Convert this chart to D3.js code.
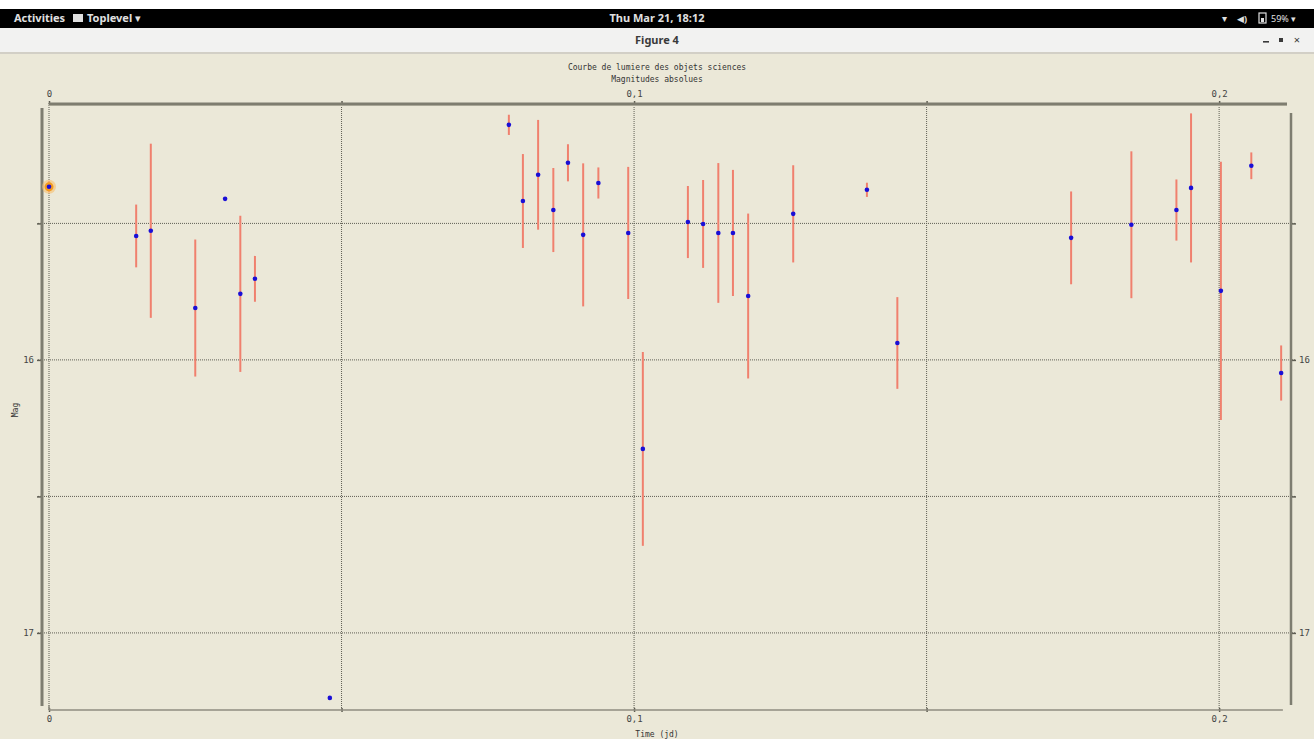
<!DOCTYPE html>
<html>
<head>
<meta charset="utf-8">
<script src="https://cdn.jsdelivr.net/npm/d3@7"></script>
<style>
    body { margin: 0; padding: 0; background: #ebe8d8; overflow: hidden; }
    svg { display: block; }
</style>
</head>
<body>
<div id="screen"></div>
<script>
//
// Light curve figure (Tk style window) drawn with D3
//

// time (jd) of each measure
var _timeValues = [0.0000, 0.0149, 0.0174, 0.0250, 0.0301, 0.0327, 0.0352, 0.0480,
    0.0786, 0.0810, 0.0836, 0.0862, 0.0887, 0.0913, 0.0939, 0.0990, 0.1015,
    0.1092, 0.1118, 0.1144, 0.1169, 0.1195, 0.1272, 0.1398, 0.1450,
    0.1747, 0.1850, 0.1927, 0.1952, 0.2003, 0.2055, 0.2106];
// absolute magnitude
var _magValues = [15.366, 15.546, 15.527, 15.810, 15.410, 15.758, 15.703, 17.238,
    15.139, 15.418, 15.322, 15.451, 15.278, 15.542, 15.352, 15.535, 16.326,
    15.495, 15.502, 15.535, 15.535, 15.766, 15.465, 15.377, 15.938,
    15.553, 15.505, 15.451, 15.370, 15.747, 15.289, 16.048];
// magnitude error (+/-)
var _errValues = [0.02, 0.115, 0.319, 0.251, 0.0, 0.286, 0.084, 0.0,
    0.037, 0.172, 0.201, 0.154, 0.068, 0.262, 0.057, 0.242, 0.355,
    0.132, 0.161, 0.256, 0.231, 0.302, 0.178, 0.026, 0.168,
    0.170, 0.269, 0.112, 0.273, 0.473, 0.049, 0.101];

var _xTicks = [0, 0.05, 0.1, 0.15, 0.2];
var _xTickLabels = ["0", "", "0,1", "", "0,2"];
var _yTicks = [15.5, 16, 16.5, 17];
var _yTickLabels = ["", "16", "", "17"];

var _titleLines = ["Courbe de lumiere des objets sciences", "Magnitudes absolues"];
var _xLabel = "Time (jd)";
var _yLabel = "Mag";
var _highlightIndex = 0;

const _width = 1314;
const _height = 739;
const _monoFont = "'DejaVu Sans Mono', 'Liberation Mono', monospace";
const _uiFont = "'Noto Sans', 'DejaVu Sans', sans-serif";
const _gridColor = "#5f5e54";
const _axisColor = "#7e7d70";

var svg = d3.select("#screen")
    .append("svg")
    .attr("width", _width)
    .attr("height", _height);

drawDesktop(svg);
drawChart(svg);

function drawDesktop(svg) {
    svg.append("rect").attr("width", _width).attr("height", _height).attr("fill", "#ebe8d8");
    svg.append("rect").attr("width", _width).attr("height", 9).attr("fill", "#ffffff");

    // gnome top bar
    svg.append("rect").attr("y", 9).attr("width", _width).attr("height", 19).attr("fill", "#000000");
    var bar = svg.append("g").style("font-family", _uiFont).style("font-size", "11px").style("font-weight", "bold").attr("fill", "#e0e0e0");
    bar.append("text").attr("x", 14).attr("y", 22).text("Activities");
    bar.append("rect").attr("x", 73).attr("y", 14).attr("width", 10).attr("height", 8).attr("fill", "#e0e0e0");
    bar.append("text").attr("x", 87).attr("y", 22).text("Toplevel \u25BE");
    bar.append("text").attr("x", 657).attr("y", 22).attr("text-anchor", "middle").text("Thu Mar 21, 18:12");
    bar.append("text").attr("x", 1222).attr("y", 22).style("font-size", "10px").text("\u25BE");
    bar.append("text").attr("x", 1237).attr("y", 22).style("font-size", "9px").text("\u25C0)");
    bar.append("rect").attr("x", 1259).attr("y", 13).attr("width", 7).attr("height", 10).attr("fill", "none")
        .attr("stroke", "#e0e0e0").attr("stroke-width", 1.2);
    bar.append("rect").attr("x", 1261).attr("y", 18).attr("width", 3).attr("height", 4).attr("fill", "#e0e0e0");
    bar.append("text").attr("x", 1271).attr("y", 22).style("font-size", "9px").style("font-weight", "normal").text("59% \u25BE");

    // window title bar
    svg.append("rect").attr("y", 28).attr("width", _width).attr("height", 25).attr("fill", "#f2f2f1");
    svg.append("rect").attr("y", 52).attr("width", _width).attr("height", 2).attr("fill", "#d2cfc6");
    var title = svg.append("g").style("font-family", _uiFont).attr("fill", "#3a3a3a");
    title.append("text").attr("x", 657).attr("y", 44).attr("text-anchor", "middle").style("font-size", "11px")
        .style("font-weight", "bold").text("Figure 4");
    title.append("rect").attr("x", 1263).attr("y", 41).attr("width", 6).attr("height", 1.6);
    title.append("rect").attr("x", 1279).attr("y", 38).attr("width", 4).attr("height", 4);
    title.append("text").attr("x", 1297).attr("y", 44).attr("text-anchor", "middle").style("font-size", "11px").text("\u00D7");
}

function drawChart(svg) {
    var data = _timeValues.map(function (t, i) {
        return { 'X': t, 'Y': _magValues[i], 'E': _errValues[i] };
    });

    var x = d3.scaleLinear().domain([0, 0.2116]).range([49, 1287]);
    var y = d3.scaleLinear().domain([15.059, 17.286]).range([103, 711]);

    var plotLeft = 42, plotRight = 1291;
    var plotTop = y(15.059), plotBottom = y(17.286);

    var chart = svg.append("g").style("font-family", _monoFont).style("font-size", "8px").attr("fill", "#333");

    // titles
    chart.selectAll(".chartTitle")
        .data(_titleLines)
        .enter()
        .append("text")
        .attr("class", "chartTitle")
        .attr("x", 657)
        .attr("y", function (d, i) { return 70 + i * 12; })
        .attr("text-anchor", "middle")
        .text(function (d) { return d; });

    // grid
    chart.append("g")
        .selectAll("line")
        .data(_xTicks)
        .enter()
        .append("line")
        .attr("x1", function (d) { return x(d); })
        .attr("x2", function (d) { return x(d); })
        .attr("y1", plotTop)
        .attr("y2", plotBottom)
        .attr("stroke", _gridColor)
        .attr("stroke-width", 1)
        .attr("stroke-dasharray", "1,1");

    chart.append("g")
        .selectAll("line")
        .data(_yTicks)
        .enter()
        .append("line")
        .attr("x1", plotLeft - 4)
        .attr("x2", plotRight + 4)
        .attr("y1", function (d) { return y(d); })
        .attr("y2", function (d) { return y(d); })
        .attr("stroke", _gridColor)
        .attr("stroke-width", 1)
        .attr("stroke-dasharray", "1,1");

    // top and bottom axes
    var xTopAxis = d3.axisTop(x)
        .tickValues(_xTicks)
        .tickSize(4)
        .tickPadding(4)
        .tickFormat(function (d, i) { return _xTickLabels[i]; });
    var xBottomAxis = d3.axisBottom(x)
        .tickValues(_xTicks)
        .tickSize(4)
        .tickPadding(4)
        .tickFormat(function (d, i) { return _xTickLabels[i]; });

    var topAxis = chart.append("g")
        .attr("transform", "translate(0," + (plotTop + 2) + ")")
        .call(xTopAxis);
    var bottomAxis = chart.append("g")
        .attr("transform", "translate(0," + (plotBottom - 3) + ")")
        .call(xBottomAxis);

    // left and right axes
    var yLeftAxis = d3.axisLeft(y)
        .tickValues(_yTicks)
        .tickSize(5)
        .tickPadding(3)
        .tickFormat(function (d, i) { return _yTickLabels[i]; });
    var yRightAxis = d3.axisRight(y)
        .tickValues(_yTicks)
        .tickSize(5)
        .tickPadding(3)
        .tickFormat(function (d, i) { return _yTickLabels[i]; });

    var leftAxis = chart.append("g")
        .attr("transform", "translate(" + plotLeft + ",0)")
        .call(yLeftAxis);
    var rightAxis = chart.append("g")
        .attr("transform", "translate(" + plotRight + ",0)")
        .call(yRightAxis);

    [topAxis, bottomAxis, leftAxis, rightAxis].forEach(function (a) {
        a.select(".domain").remove();
        a.selectAll(".tick line").attr("stroke", "#5e5d52").attr("stroke-width", 1.5);
        a.selectAll(".tick text")
            .style("font-family", _monoFont)
            .style("font-size", "9px")
            .attr("fill", "#444");
    });

    // axis frame lines (Tk canvas look)
    chart.append("line").attr("x1", x(0)).attr("x2", x(0.2116)).attr("y1", plotTop + 1).attr("y2", plotTop + 1)
        .attr("stroke", _axisColor).attr("stroke-width", 3);
    chart.append("line").attr("x1", x(0)).attr("x2", x(0.2116)).attr("y1", plotTop + 2.5).attr("y2", plotTop + 2.5)
        .attr("stroke", "#a9a797").attr("stroke-width", 1);
    chart.append("line").attr("x1", x(0)).attr("x2", x(0.2109)).attr("y1", plotBottom - 1).attr("y2", plotBottom - 1)
        .attr("stroke", "#8f8d80").attr("stroke-width", 1.5);
    chart.append("line").attr("x1", x(0)).attr("x2", x(0)).attr("y1", plotBottom - 1).attr("y2", plotBottom - 6)
        .attr("stroke", "#8f8d80").attr("stroke-width", 1.5);
    chart.append("line").attr("x1", plotLeft).attr("x2", plotLeft).attr("y1", plotTop + 5).attr("y2", plotBottom - 5)
        .attr("stroke", _axisColor).attr("stroke-width", 3);
    chart.append("line").attr("x1", plotRight).attr("x2", plotRight).attr("y1", plotTop + 10).attr("y2", plotBottom - 6)
        .attr("stroke", _axisColor).attr("stroke-width", 2.5);

    // axis titles
    chart.append("text")
        .attr("transform", "translate(18," + 410 + ") rotate(-90)")
        .attr("text-anchor", "middle")
        .text(_yLabel);
    chart.append("text")
        .attr("x", 657)
        .attr("y", 737)
        .attr("text-anchor", "middle")
        .text(_xLabel);

    // error bars
    chart.append("g")
        .selectAll("line")
        .data(data.filter(function (d) { return d.E > 0; }))
        .enter()
        .append("line")
        .attr("x1", function (d) { return x(d.X); })
        .attr("x2", function (d) { return x(d.X); })
        .attr("y1", function (d) { return y(d.Y - d.E); })
        .attr("y2", function (d) { return y(d.Y + d.E); })
        .attr("stroke", "#f0806e")
        .attr("stroke-width", 2);

    // highlighted first measure
    var hl = data[_highlightIndex];
    chart.append("circle")
        .attr("cx", x(hl.X))
        .attr("cy", y(hl.Y))
        .attr("r", 7)
        .attr("fill", "#f7c070")
        .attr("opacity", 0.6);
    chart.append("circle")
        .attr("cx", x(hl.X))
        .attr("cy", y(hl.Y))
        .attr("r", 4.5)
        .attr("fill", "#f39a1e");

    // points
    chart.append("g")
        .selectAll("circle")
        .data(data)
        .enter()
        .append("circle")
        .attr("cx", function (d) { return x(d.X); })
        .attr("cy", function (d) { return y(d.Y); })
        .attr("r", 2.3)
        .attr("fill", "#1a0fd6");
}
</script>
</body>
</html>
